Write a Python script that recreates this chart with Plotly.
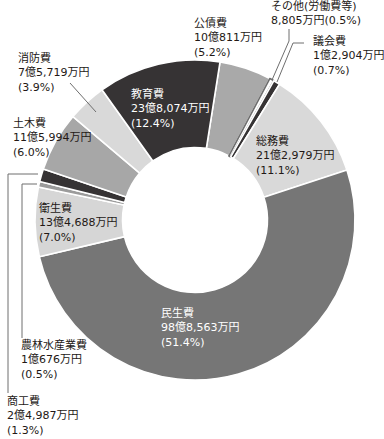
import plotly.graph_objects as go

# ---- data (clockwise from 公債費) ----
categories = ["公債費", "その他(労働費等)", "議会費", "総務費", "民生費", "衛生費",
              "農林水産業費", "商工費", "土木費", "消防費", "教育費"]
amounts_man_yen = [100811, 8805, 12904, 212979, 988563, 134688,
                   10676, 24987, 115994, 75719, 238074]
percents = [5.2, 0.5, 0.7, 11.1, 51.4, 7.0, 0.5, 1.3, 6.0, 3.9, 12.4]

# ---- styles ----
colors = ["#a9a9a9", "#ffffff", "#363334", "#d9d9d9", "#767676", "#d6d6d6",
          "#9b9b9b", "#363334", "#a7a7a7", "#d9d9d9", "#363334"]
line_colors = ["#ffffff", "#6e6e6e", "#ffffff", "#ffffff", "#ffffff", "#ffffff",
               "#ffffff", "#ffffff", "#ffffff", "#ffffff", "#ffffff"]

W, H = 384, 439
CX, CY, R = 195, 220, 160

def fmt_amount(man):
    oku, rem = divmod(man, 10000)
    s = f"{oku}億" if oku else ""
    if rem:
        s += f"{rem:,}万円"
    else:
        s += "円"
    return s

fig = go.Figure(go.Pie(
    labels=categories,
    values=amounts_man_yen,
    sort=False,
    direction="clockwise",
    rotation=9,
    hole=0.453,
    marker=dict(colors=colors, line=dict(color=line_colors, width=1.6)),
    textinfo="none",
    hoverinfo="label+percent",
    domain=dict(x=[(CX - R) / W, (CX + R) / W],
                y=[(H - CY - R) / H, (H - CY + R) / H]),
    showlegend=False,
))

# label placement (pixel position of text left edge / first line centre)
label_pos = {
    "公債費": (193, 25, "dark"),
    "その他(労働費等)": (270, 7, "dark"),
    "議会費": (312, 43, "dark"),
    "総務費": (255, 143, "dark"),
    "民生費": (160, 315, "light"),
    "衛生費": (38, 210, "dark"),
    "農林水産業費": (20, 347, "dark"),
    "商工費": (6, 403, "dark"),
    "土木費": (12, 125, "dark"),
    "消防費": (17, 60, "dark"),
    "教育費": (130, 96, "light"),
}
REF_LINE = 12.6
FS = 11
FONT = "DejaVu Sans, Noto Sans CJK JP"
annotations = []
for name, amt, pct in zip(categories, amounts_man_yen, percents):
    x, y, tone = label_pos[name]
    if name == "その他(労働費等)":
        lines = [name, f"{fmt_amount(amt)}({pct}%)"]
    else:
        lines = [name, fmt_amount(amt), f"({pct}%)"]
    color = "#ffffff" if tone == "light" else "#231815"
    y_mid = y + REF_LINE * (len(lines) - 1) / 2
    annotations.append(dict(
        x=x / W, y=1 - y_mid / H, xref="paper", yref="paper",
        xanchor="left", yanchor="middle", align="left", text="<br>".join(lines),
        showarrow=False, borderpad=0,
        font=dict(family=FONT, size=FS, color=color),
    ))

# leader lines (pixel polylines)
leaders = [
    [(289, 29), (289, 41), (272, 80)],
    [(304, 43), (293, 43), (277, 82)],
    [(70, 83), (96, 112)],
    [(8, 393), (8, 174), (38, 174)],
    [(22, 338), (22, 184), (37, 184)],
]
shapes = []
for pts in leaders:
    for (x0, y0), (x1, y1) in zip(pts[:-1], pts[1:]):
        shapes.append(dict(type="line", xref="paper", yref="paper",
                           x0=x0 / W, y0=1 - y0 / H, x1=x1 / W, y1=1 - y1 / H,
                           line=dict(color="#6e6e6e", width=1)))

fig.update_layout(
    width=W, height=H,
    margin=dict(l=0, r=0, t=0, b=0),
    paper_bgcolor="white", plot_bgcolor="white",
    annotations=annotations, shapes=shapes,
)
fig.write_html(
    "out.html",
    config={"displayModeBar": False},
    post_script="document.body.style.margin='0';document.body.style.overflow='hidden';",
)
